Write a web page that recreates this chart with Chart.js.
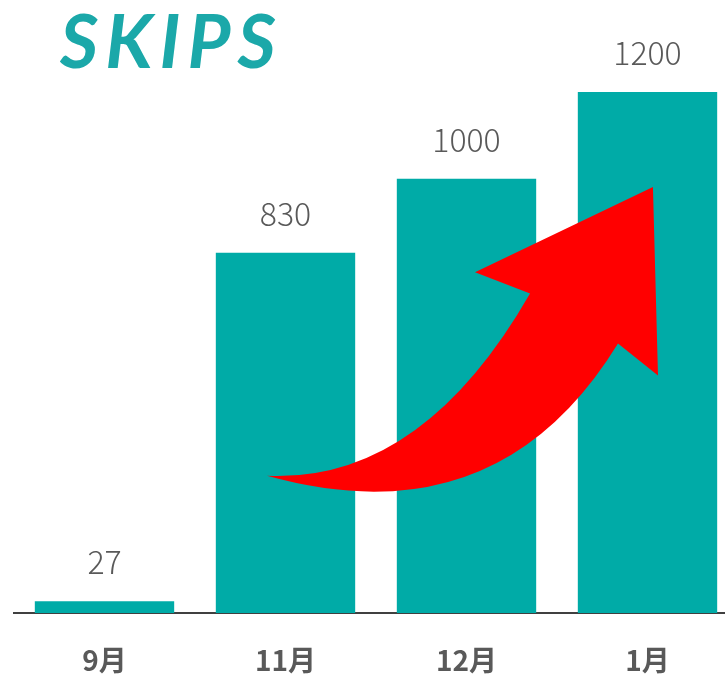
<!DOCTYPE html>
<html>
<head>
<meta charset="utf-8">
<script src="https://cdn.jsdelivr.net/npm/chart.js@4"></script>
<style>
  body { margin: 0; overflow: hidden; background: #fff; width: 725px; height: 675px; position: relative; }
  #title {
    position: absolute; left: 60px; top: -5px;
    font-family: Lato, sans-serif; font-style: italic; font-weight: 700;
    font-size: 74px; letter-spacing: 7px; color: #1ba8a9;
  }
  canvas { position: absolute; left: 0; top: 0; }
</style>
</head>
<body>
<div id="title">SKIPS</div>
<!-- canvas is a bit bigger than the window, the extra gets clipped -->
<canvas id="chart-skips" width="745" height="707"></canvas>
<script>
// data
const months = ['9月', '11月', '12月', '1月'];
const skips = [27, 830, 1000, 1200];

// red arrow outline in data space: [category index, value]
const arrowFrom = [2.351, 736];      // inner corner under left barb
const arrowUpperCtl = [1.751, 300];
const arrowTail = [0.898, 316];
const arrowLowerCtl = [2.171, 168];
const arrowInner = [2.837, 621];     // inner corner by right barb
const arrowRightBarb = [3.058, 547];
const arrowTip = [3.030, 981];
const arrowLeftBarb = [2.047, 785];

const valueLabels = {
  id: 'valueLabels',
  afterDatasetsDraw(chart) {
    const ctx = chart.ctx;
    const meta = chart.getDatasetMeta(0);
    ctx.save();
    ctx.font = '300 32px "Noto Sans CJK JP", "Noto Sans", sans-serif';
    ctx.fillStyle = '#595959';
    ctx.textAlign = 'center';
    ctx.textBaseline = 'alphabetic';
    meta.data.forEach(function(bar, i) {
      ctx.fillText(skips[i], bar.x, bar.y - 27);
    });
    ctx.restore();
  }
};

const redArrow = {
  id: 'redArrow',
  afterDatasetsDraw(chart) {
    const xs = chart.scales.x, ys = chart.scales.y;
    const p = (d) => [xs.getPixelForValue(d[0]), ys.getPixelForValue(d[1])];
    const a = p(arrowFrom), uc = p(arrowUpperCtl), t = p(arrowTail),
          lc = p(arrowLowerCtl), b = p(arrowInner), rb = p(arrowRightBarb),
          tip = p(arrowTip), lb = p(arrowLeftBarb);
    const ctx = chart.ctx;
    ctx.save();
    ctx.beginPath();
    ctx.moveTo(a[0], a[1]);
    ctx.quadraticCurveTo(uc[0], uc[1], t[0], t[1]);
    ctx.quadraticCurveTo(lc[0], lc[1], b[0], b[1]);
    ctx.lineTo(rb[0], rb[1]);
    ctx.lineTo(tip[0], tip[1]);
    ctx.lineTo(lb[0], lb[1]);
    ctx.closePath();
    ctx.fillStyle = '#ff0000';
    ctx.fill();
    ctx.restore();
  }
};

const ctx = document.getElementById('chart-skips').getContext('2d');
new Chart(ctx, {
  type: 'bar',
  data: {
    labels: months,
    datasets: [{
      data: skips,
      backgroundColor: '#00aba7',
      barPercentage: 0.77,
      categoryPercentage: 1
    }]
  },
  options: {
    responsive: false,
    animation: false,
    layout: { padding: { left: 14, right: 7, top: 92, bottom: 0 } },
    plugins: { legend: { display: false }, tooltip: { enabled: false } },
    scales: {
      x: {
        grid: { display: false, drawTicks: false },
        border: { display: true, color: '#404040', width: 2 },
        ticks: {
          color: '#595959',
          padding: 33,
          font: { family: '"Noto Sans CJK JP", sans-serif', size: 28, weight: 'bold', lineHeight: 1 }
        }
      },
      y: {
        display: false,
        min: 0,
        max: 1200
      }
    }
  },
  plugins: [valueLabels, redArrow]
});
</script>
</body>
</html>
